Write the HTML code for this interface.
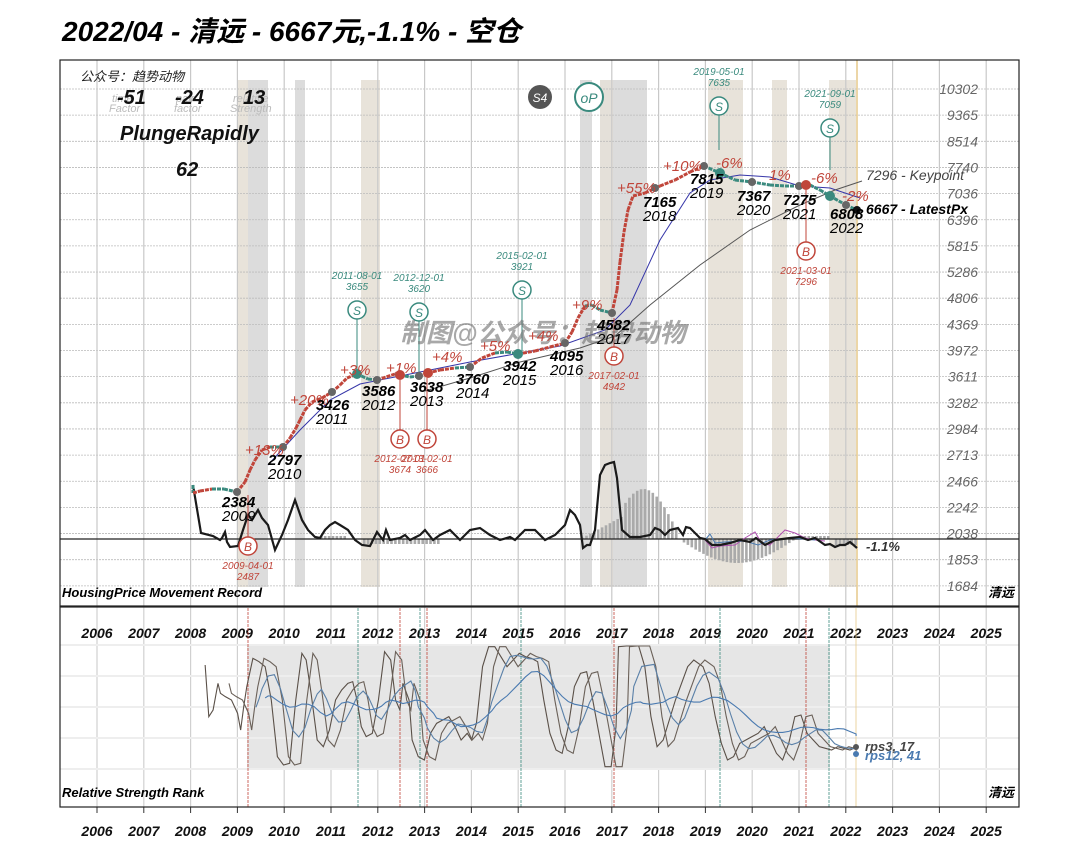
<!DOCTYPE html>
<html><head><meta charset="utf-8"><style>
body{margin:0;background:#fff;width:1080px;height:868px;overflow:hidden}
svg{display:block}
text{font-family:"Liberation Sans","Noto Sans CJK SC",sans-serif;font-style:italic}
</style></head><body>
<svg id="s" width="1080" height="868" xmlns="http://www.w3.org/2000/svg"></svg>
<script>
const S=document.getElementById('s');let h='';
const yx=t=>97+(t-2006)*46.8;
function T(x,y,s,sz,c,w,a,extra){h+=`<text x="${x}" y="${y}" font-size="${sz}" fill="${c}" font-weight="${w||'normal'}" text-anchor="${a||'start'}" ${extra||''}>${s}</text>`}
function L(pts,c,w,extra){h+=`<polyline points="${pts.map(p=>p.join(',')).join(' ')}" fill="none" stroke="${c}" stroke-width="${w}" ${extra||''}/>`}
T(62,41,'2022/04 - 清远 - 6667元,-1.1% - 空仓',28,'#000','bold');
const bands=[[237,248,'#e8e3da'],[248,268,'#dcdcdc'],[295,305,'#dcdcdc'],[361,380,'#e8e3da'],[580,592,'#dcdcdc'],[600,647,'#dcdcdc'],[600,613,'#e4e0d9'],[708,743,'#e8e3da'],[772,787,'#e8e3da'],[829,856,'#e8e3da']];
bands.forEach(b=>h+=`<rect x="${b[0]}" y="80" width="${b[1]-b[0]}" height="507" fill="${b[2]}"/>`);
const ticks=[10302,9365,8514,7740,7036,6396,5815,5286,4806,4369,3972,3611,3282,2984,2713,2466,2242,2038,1853,1684];
ticks.forEach((v,i)=>{const y=89+i*26.15;h+=`<line x1="60" x2="1019" y1="${y}" y2="${y}" stroke="#bbb" stroke-dasharray="2,1" stroke-width="0.8"/>`;T(978,y+5,v,14,'#666','normal','end')});
for(let t=2006;t<=2025;t++){const x=yx(t);h+=`<line x1="${x}" x2="${x}" y1="60" y2="606" stroke="#c8c8c8" stroke-width="1.2"/>`;h+=`<line x1="${x}" x2="${x}" y1="607" y2="807" stroke="#d0d0d0" stroke-width="1.2"/>`;T(x,638,t,14,'#111','bold','middle');T(x,836,t,14,'#111','bold','middle');h+=`<line x1="${x}" x2="${x}" y1="807" y2="813" stroke="#333"/>`}
h+=`<line x1="857" x2="857" y1="60" y2="606" stroke="#e6c98a" stroke-width="1.5"/>`;
for(let x=320;x<=857;x+=3.9){let v=0,t=(x-97)/46.8+2006;
 if(t>2009.7&&t<2011.3)v=-3;else if(t>2011.6&&t<2013.3)v=5;else if(t>2016.3&&t<2017.2)v=-(t-2016.3)*25;
 else if(t>=2017.2&&t<2018.4)v=-45*Math.sin((t-2016.9)/1.5*Math.PI)-5;else if(t>=2018.4&&t<2020.9)v=24*Math.sin((t-2018.4)/2.5*Math.PI);else if(t>2021&&t<2021.6)v=-3;else if(t>2021.7)v=6;
 if(Math.abs(v)>1)h+=`<rect x="${x}" y="${Math.min(539,539+v)}" width="2.6" height="${Math.abs(v)}" fill="#aaa"/>`}
h+=`<line x1="60" x2="1019" y1="539" y2="539" stroke="#222" stroke-width="1.2"/>`;
L([[705,540],[712,548],[720,546],[735,545],[745,538],[755,532],[762,544],[770,545],[785,530],[795,533],[805,538],[815,540],[825,541]],'#b050b0',1);
L([[705,540],[710,534],[715,543],[725,542],[745,541],[758,545],[770,540],[790,538],[815,540]],'#4a7ab0',1);
L([[193,485],[201,533],[213,536],[220,540],[222,538],[225,532],[227,542],[230,547],[238,546],[243,530],[248,515],[252,520],[258,510],[262,518],[268,525],[275,550],[282,535],[288,520],[295,500],[302,520],[308,530],[315,537],[320,538],[325,530],[330,525],[335,522],[340,525],[348,530],[355,540],[362,545],[370,546],[377,532],[383,540],[386,530],[390,540],[400,538],[405,535],[410,540],[420,535],[425,530],[433,540],[440,535],[450,530],[460,540],[470,530],[480,528],[490,535],[500,540],[510,537],[515,540],[525,530],[535,530],[545,540],[555,535],[565,525],[570,510],[575,515],[580,525],[583,548],[587,545],[590,545],[595,530],[600,475],[605,465],[610,463],[614,462],[617,478],[622,530],[630,537],[640,537],[650,535],[655,528],[660,530],[665,535],[670,530],[678,528],[683,535],[686,527],[690,528],[695,533],[700,538],[705,539],[712,545],[720,545],[730,543],[740,540],[750,542],[756,538],[765,545],[775,540],[790,538],[800,537],[808,540],[815,538],[825,545],[830,544],[835,547],[840,545],[845,545],[850,542],[857,548]],'#1a1a1a',2.2);
L([[268,465],[300,430],[330,400],[360,384],[400,376],[470,362],[560,346],[605,330],[630,305],[660,240],[690,193],[710,180],[740,175],[770,177],[800,186],[830,188],[860,198]],'#3535a8',1);
L([[425,391],[470,378],[520,362],[580,348],[615,336],[650,305],[700,265],[750,230],[800,205],[835,190],[862,181]],'#555',1);
const P=[[193,485],[193,493],[200,491],[212,489],[224,489],[237,492],[245,482],[250,470],[255,460],[262,450],[270,447],[283,447],[290,438],[296,428],[300,420],[305,410],[312,402],[322,398],[332,392],[340,385],[347,378],[357,374],[368,379],[377,380],[395,374],[410,377],[419,376],[428,373],[440,370],[455,368],[470,367],[482,358],[495,353],[507,352],[518,354],[535,351],[550,347],[565,343],[572,332],[578,318],[585,306],[592,305],[600,310],[612,313],[617,290],[620,262],[624,232],[628,210],[633,196],[645,193],[660,186],[675,180],[690,172],[704,166],[720,173],[735,180],[752,182],[770,185],[785,186],[799,186],[810,185],[820,190],[830,196],[846,205],[857,210]];
for(let i=1;i<P.length;i++){const [a,b]=[P[i-1],P[i]];const up=b[1]<a[1]-1;h+=`<line x1="${a[0]}" y1="${a[1]}" x2="${b[0]}" y2="${b[1]}" stroke="${up?'#c0453a':'#3a8a7e'}" stroke-width="3" stroke-dasharray="4,1"/>`}
[[237,492],[283,447],[332,392],[377,380],[419,376],[470,367],[565,343],[612,313],[655,188],[704,166],[752,182],[799,186],[846,205]].forEach(p=>h+=`<circle cx="${p[0]}" cy="${p[1]}" r="4" fill="#666"/>`);
[[357,374],[518,354],[720,173],[830,196]].forEach(p=>h+=`<circle cx="${p[0]}" cy="${p[1]}" r="5" fill="#3a8a7e"/>`);
[[428,373],[400,375],[806,185]].forEach(p=>h+=`<circle cx="${p[0]}" cy="${p[1]}" r="5" fill="#c0453a"/>`);
h+=`<circle cx="857" cy="210" r="4" fill="#111"/>`;
[[357,310,'2011-08-01','3655',372],[419,312,'2012-12-01','3620',372],[522,290,'2015-02-01','3921',352],[719,106,'2019-05-01','7635',150],[830,128,'2021-09-01','7059',170]].forEach(m=>{
h+=`<line x1="${m[0]}" x2="${m[0]}" y1="${m[1]+9}" y2="${m[4]}" stroke="#3a8a7e"/>`;
h+=`<circle cx="${m[0]}" cy="${m[1]}" r="9" fill="#fff" stroke="#3a8a7e" stroke-width="1.5"/>`;T(m[0],m[1]+5,'S',12,'#3a8a7e','normal','middle','font-style="normal"');
T(m[0],m[1]-31,m[2],10,'#3a8a7e','normal','middle');T(m[0],m[1]-20,m[3],10,'#3a8a7e','normal','middle')});
[[248,546,'2009-04-01','2487',495],[400,439,'2012-07-01','3674',380],[427,439,'2013-02-01','3666',378],[614,356,'2017-02-01','4942',318],[806,251,'2021-03-01','7296',190]].forEach(m=>{
h+=`<line x1="${m[0]}" x2="${m[0]}" y1="${m[1]-9}" y2="${m[4]}" stroke="#c0453a"/>`;
h+=`<circle cx="${m[0]}" cy="${m[1]}" r="9" fill="#fff" stroke="#c0453a" stroke-width="1.5"/>`;T(m[0],m[1]+5,'B',12,'#c0453a','normal','middle','font-style="normal"');
T(m[0],m[1]+23,m[2],10,'#c0453a','normal','middle');T(m[0],m[1]+34,m[3],10,'#c0453a','normal','middle')});
h+=`<circle cx="540" cy="97" r="12" fill="#555"/>`;T(540,102,'S4',12,'#fff','normal','middle','font-style="normal"');
h+=`<circle cx="589" cy="97" r="14" fill="#fff" stroke="#3a8a7e" stroke-width="2"/>`;T(589,103,'oP',14,'#3a8a7e','normal','middle','font-style="normal"');
T(400,342,'制图@公众号：趋势动物',26,'rgba(110,110,110,0.6)','bold');
[['+13%',245,455],['+20%',290,405],['+3%',340,375],['+1%',386,373],['+4%',432,362],['+5%',480,351],['+4%',528,341],['+9%',572,310],['+55%',617,193],['+10%',663,171],['-6%',716,168],['1%',769,180],['-6%',811,183],['-2%',842,201]].forEach(p=>T(p[1],p[2],p[0],15,'#c0453a'));
[['2384','2009',222,507],['2797','2010',268,465],['3426','2011',316,410],['3586','2012',362,396],['3638','2013',410,392],['3760','2014',456,384],['3942','2015',503,371],['4095','2016',550,361],['4582','2017',597,330],['7165','2018',643,207],['7815','2019',690,184],['7367','2020',737,201],['7275','2021',783,205],['6808','2022',830,219]].forEach(l=>{T(l[2],l[3],l[0],15,'#000','bold');T(l[2],l[3]+14,l[1],15,'#000')});
T(866,180,'7296 - Keypoint',14,'#444');
T(866,214,'6667 - LatestPx',14,'#000','bold');
T(866,551,'-1.1%',13,'#333','bold');
T(80,81,'公众号：趋势动物',13,'#222');
T(112,102,'time',11,'#bbb');T(109,112,'Factor',11,'#bbb');T(176,102,'pair',11,'#bbb');T(174,112,'factor',11,'#bbb');T(233,102,'relative',11,'#bbb');T(230,112,'Strength',11,'#bbb');
T(117,104,'-51',20,'#111','bold');T(175,104,'-24',20,'#111','bold');T(243,104,'13',20,'#111','bold');
T(120,140,'PlungeRapidly',20,'#111','bold');
T(176,176,'62',20,'#111','bold');
T(62,597,'HousingPrice Movement Record',13,'#000','bold');T(1014,597,'清远',13,'#000','bold','end');
h+=`<rect x="60" y="60" width="959" height="546" fill="none" stroke="#222" stroke-width="1.2"/>`;
h+=`<rect x="247" y="645" width="583" height="124" fill="#e6e6e6"/>`;
[645,676,707,738,769].forEach(y=>h+=`<line x1="60" x2="1019" y1="${y}" y2="${y}" stroke="#eee" stroke-width="2"/>`);
[[248,'#c0453a'],[400,'#c0453a'],[427,'#c0453a'],[614,'#c0453a'],[806,'#c0453a'],[358,'#3a8a7e'],[420,'#3a8a7e'],[521,'#3a8a7e'],[720,'#3a8a7e'],[829,'#3a8a7e'],[856,'#e6c98a']].forEach(v=>h+=`<line x1="${v[0]}" x2="${v[0]}" y1="608" y2="807" stroke="${v[1]}" stroke-width="0.8" ${v[1]=='#e6c98a'?'':'stroke-dasharray="3,1"'}/>`);
const A=[[237,195],[243,350],[250,330],[258,250],[262,280],[270,290],[280,300],[290,340],[295,390],[300,320],[305,260],[315,175],[325,185],[335,200],[345,300],[355,470],[365,495],[375,490],[385,300],[395,160],[402,180],[410,280],[420,420],[430,440],[440,390],[450,300],[460,270],[470,250],[478,245],[485,300],[492,380],[500,410],[510,400],[520,300],[530,155],[540,180],[548,300],[555,330],[560,250],[570,300],[575,420],[585,470],[595,480],[605,400],[615,370],[625,360],[635,350],[645,380],[655,420],[665,400],[672,420],[680,370],[690,200],[700,140],[710,140],[720,170],[730,200],[740,180],[750,160],[760,170],[770,175],[780,185],[790,300],[800,400],[810,450],[820,460],[830,380],[840,260],[850,220],[860,215],[870,300],[880,400],[890,500],[900,500],[908,380],[912,140],[925,138],[945,138],[955,200],[965,350],[975,440],[985,420],[995,360],[1005,300],[1015,250],[1025,200],[1035,180],[1050,200],[1060,250],[1070,350],[1080,430],[1090,480],[1100,470],[1110,430],[1120,420],[1130,410],[1140,400],[1150,380],[1160,420],[1170,460],[1180,480],[1190,430],[1200,350],[1210,345],[1220,400],[1230,420],[1240,440],[1250,445],[1260,450],[1270,440],[1280,445],[1290,450],[1300,442]];
const tr=(p,dx)=>[60+(p[0]+dx)/1.633,600+p[1]/3];
function smooth(arr,k){return arr.map((p,i)=>{let s=0,n=0;for(let j=Math.max(0,i-k);j<=Math.min(arr.length-1,i+k);j++){s+=arr[j][1];n++}return [p[0],s/n]})}
L(A.map(p=>tr(p,0)),'#5a5048',1.1);
L(A.filter(p=>p[0]>250).map(p=>tr(p,Math.min(18,1300-p[0]))),'#6a6058',1.1);
L(smooth(A,2).filter(p=>p[0]>290).map(p=>tr(p,Math.min(25,1300-p[0]))),'#5a80a8',1.1);
L(smooth(A,4).filter(p=>p[0]>290).map(p=>[tr(p,Math.min(40,1300-p[0]))[0],(tr(p,0)[1]-707)*0.7+707]),'#4a7ab0',1.1);
h+=`<circle cx="856" cy="747" r="3" fill="#555"/><circle cx="856" cy="754" r="3" fill="#4a7ab0"/>`;
T(865,751,'rps3, 17',13,'#444','bold');T(865,760,'rps12, 41',13,'#4a7ab0','bold');
T(62,797,'Relative Strength Rank',13,'#000','bold');T(1014,797,'清远',13,'#000','bold','end');
h+=`<rect x="60" y="607" width="959" height="200" fill="none" stroke="#222" stroke-width="1.2"/>`;
S.innerHTML=h;
</script>
</body></html>
